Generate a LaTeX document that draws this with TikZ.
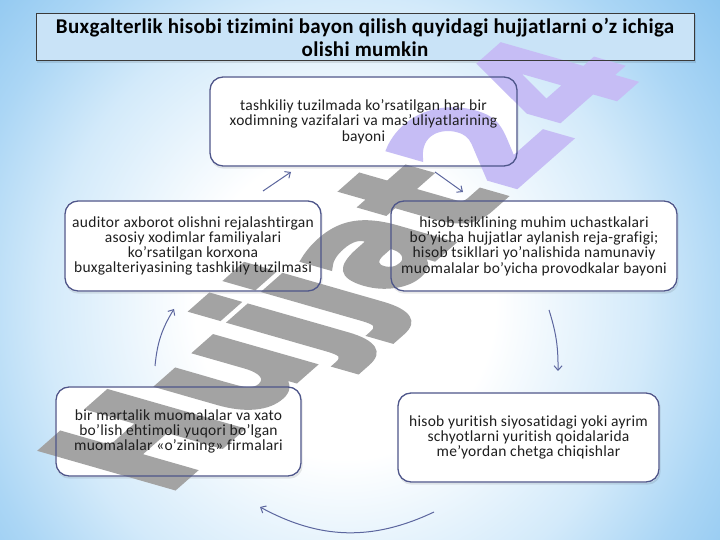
\documentclass[tikz,border=0pt]{standalone}
\usepackage{fontspec}
\setmainfont{Carlito}[Ligatures=NoCommon]
\newfontfamily\boxfont{Carlito}[LetterSpace=1.8,Ligatures=NoCommon]
\newfontfamily\titlefont{Carlito}[LetterSpace=1.5,Ligatures=NoCommon]
\newfontfamily\wmfont{DejaVu Sans}[BoldFeatures={FakeBold=4}]
\usetikzlibrary{arrows.meta,calc}
\definecolor{bgmid}{HTML}{D3EAFA}
\definecolor{bgmid2}{HTML}{ABD6F5}
\definecolor{bgout}{HTML}{8DC6F0}
\definecolor{boxline}{RGB}{78,86,138}
\definecolor{arrowcol}{RGB}{92,102,158}
\definecolor{boxtext}{HTML}{1E1E1E}
\definecolor{titlefill}{HTML}{C9E3F7}
\definecolor{titleline}{HTML}{3A3A3A}
\definecolor{wmgray}{RGB}{163,163,163}
\definecolor{wmpurple}{RGB}{198,189,245}
\pgfdeclareradialshading{bgshade}{\pgfpoint{0bp}{0bp}}{color(0bp)=(white); color(10bp)=(white); color(20bp)=(bgmid); color(26bp)=(bgmid2); color(32bp)=(bgout); color(50bp)=(bgout)}
\pgfdeclarelayer{back}
\pgfdeclarelayer{wmark}
\pgfsetlayers{back,wmark,main}
\tikzset{
  box/.style={draw=boxline, line width=1.3pt, rounded corners=13pt, align=center,
    inner sep=0pt, text=boxtext, font=\boxfont\fontsize{15.5}{15.3}\selectfont},
  titlebox/.style={draw=titleline, line width=1pt, align=center, inner sep=0pt,
    font=\titlefont\bfseries\fontsize{21}{22.5}\selectfont},
  arr/.style={draw=arrowcol, line width=1pt, -{Straight Barb[length=4.5pt,width=8pt]}},
  wmtext/.style={anchor=base west, inner sep=0pt, outer sep=0pt, transform shape,
    font=\wmfont\bfseries\fontsize{100}{100}\selectfont},
}
\begin{document}
\begin{tikzpicture}[x=1pt,y=1pt]
\useasboundingbox (0,0) rectangle (720,540);
% title
\node[titlebox, minimum width=658, minimum height=47] (title) at (365,502.5)
  {Buxgalterlik hisobi tizimini bayon qilish quyidagi hujjatlarni o’z ichiga\\olishi mumkin};
% boxes
\node[box, minimum width=307, minimum height=89] (top) at (363.5,418.5)
  {tashkiliy tuzilmada ko’rsatilgan har bir\\xodimning vazifalari va mas’uliyatlarining\\bayoni};
\node[box, minimum width=256, minimum height=90] (left) at (193,294)
  {auditor axborot olishni rejalashtirgan\\asosiy xodimlar familiyalari\\ko’rsatilgan korxona\\buxgalteriyasining tashkiliy tuzilmasi};
\node[box, minimum width=286, minimum height=90] (right) at (534,294)
  {hisob tsiklining muhim uchastkalari\\bo’yicha hujjatlar aylanish reja-grafigi;\\hisob tsikllari yo’nalishida namunaviy\\muomalalar bo’yicha provodkalar bayoni};
\node[box, minimum width=245, minimum height=89] (bl) at (178.5,108.5)
  {bir martalik muomalalar va xato\\bo’lish ehtimoli yuqori bo’lgan\\muomalalar «o’zining» firmalari};
\node[box, minimum width=261, minimum height=89] (br) at (528.5,102.5)
  {hisob yuritish siyosatidagi yoki ayrim\\schyotlarni yuritish qoidalarida\\me’yordan chetga chiqishlar};
% arrows
\coordinate (a1s) at (263,349); \coordinate (a1e) at (291,368);
\coordinate (a2s) at (435,368); \coordinate (a2e) at (463,348);
\coordinate (a3s) at (549,230); \coordinate (a3e) at (558,169);
\coordinate (a4s) at (434,28);  \coordinate (a4e) at (260,33);
\coordinate (a5s) at (155,174); \coordinate (a5e) at (174,231);
\draw[arr] (a1s) -- (a1e);
\draw[arr] (a2s) -- (a2e);
\draw[arr] (a3s) to[bend left=9] (a3e);
\draw[arr] (a4s) to[bend left=27] (a4e);
\draw[arr] (a5s) to[bend left=13] (a5e);
% watermark
\begin{pgfonlayer}{wmark}
\begin{scope}[cm={1.0126,0.8928,-1.80,0.516,(164.7,44.1)}]
\node[wmtext, text=wmgray] (wm1) at (0,0) {Hujjat};
\node[wmtext, text=wmpurple] (wm2) at (wm1.base east) {24};
\end{scope}
\end{pgfonlayer}
% background, shadows and fills
\begin{pgfonlayer}{back}
\begin{scope}
\clip (0,0) rectangle (720,540);
\shade[shading=bgshade] (-30,-150) rectangle (720,620);
\end{scope}
\foreach \n in {top,left,right,bl,br}{
  \fill[black, opacity=0.09, rounded corners=13pt]
    ($(\n.south west)+(1,-2)$) rectangle ($(\n.north east)+(1,-2)$);
  \fill[white, rounded corners=13pt] (\n.south west) rectangle (\n.north east);
}
\fill[black, opacity=0.1] ($(title.south west)+(1,-2)$) rectangle ($(title.north east)+(1,-2)$);
\fill[titlefill] (title.south west) rectangle (title.north east);
\end{pgfonlayer}
\end{tikzpicture}
\end{document}
